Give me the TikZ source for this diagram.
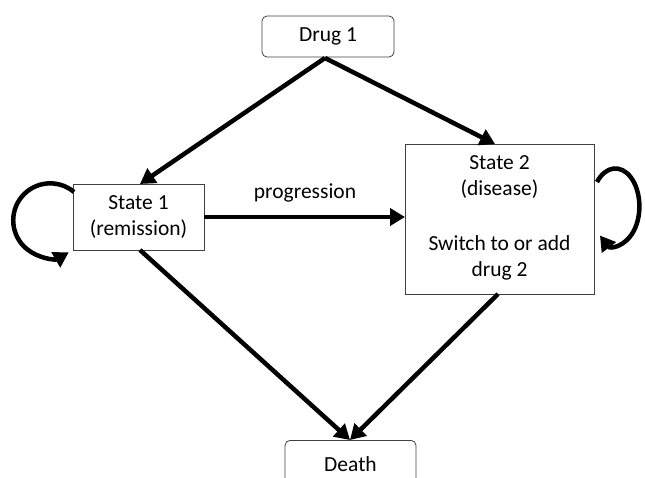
\documentclass[tikz,border=0pt]{standalone}
\usepackage{fontspec}
\setmainfont{Carlito}
\usetikzlibrary{arrows.meta}
\begin{document}
\begin{tikzpicture}[x=1pt,y=-1pt,
  txt/.style={font=\fontsize{21.5}{26}\selectfont,align=center},
  box/.style={draw=black!75,line width=0.8pt,fill=white,inner sep=0pt,txt},
  rbox/.style={box,rounded corners=5pt},
  arr/.style={line width=4.5pt,-{Triangle[length=15pt,width=17pt]}}]
\useasboundingbox (0,0) rectangle (645,477);
\clip (0,0) rectangle (645,477);
\node[rbox,minimum width=132pt,minimum height=41pt] (drug) at (328,36.5) {Drug 1};
\node[box,minimum width=131pt,minimum height=66pt] (s1) at (138.5,217) {State 1\\(remission)};
\node[box,minimum width=189pt,minimum height=150pt,anchor=north west] (s2) at (405,144) {};
\node[txt] (s2a) at (499.5,177) {State 2\\(disease)};
\node[txt] (s2b) at (499.5,258) {Switch to or add\\drug 2};
\node[rbox,minimum width=131pt,minimum height=60pt,anchor=north] (death) at (350.5,440) {};
\node[txt] (deathlbl) at (350.5,464) {Death};
\coordinate (dtop) at (350,440);
\coordinate (dsrc) at (325,58);
\coordinate (s1top) at (140,184);
\coordinate (s2top) at (495,144);
\coordinate (s1bot) at (140,250);
\coordinate (s2bot) at (498,294);
\coordinate (l1) at (74,192);
\coordinate (l2) at (597,182);
\draw[arr] (dsrc) -- (s1top);
\draw[arr] (dsrc) -- (s2top);
\draw[arr] (s1.east) -- (s2.west |- s1.east);
\node[txt] (prog) at (305,193) {progression};
\draw[arr] (s1bot) -- (dtop);
\draw[arr] (s2bot) -- (dtop);
\draw[arr] (l1) arc[start angle=-50,end angle=-300,radius=37];
\draw[arr] (l2) arc[start angle=-140,end angle=130,x radius=24,y radius=38];
\end{tikzpicture}
\end{document}
